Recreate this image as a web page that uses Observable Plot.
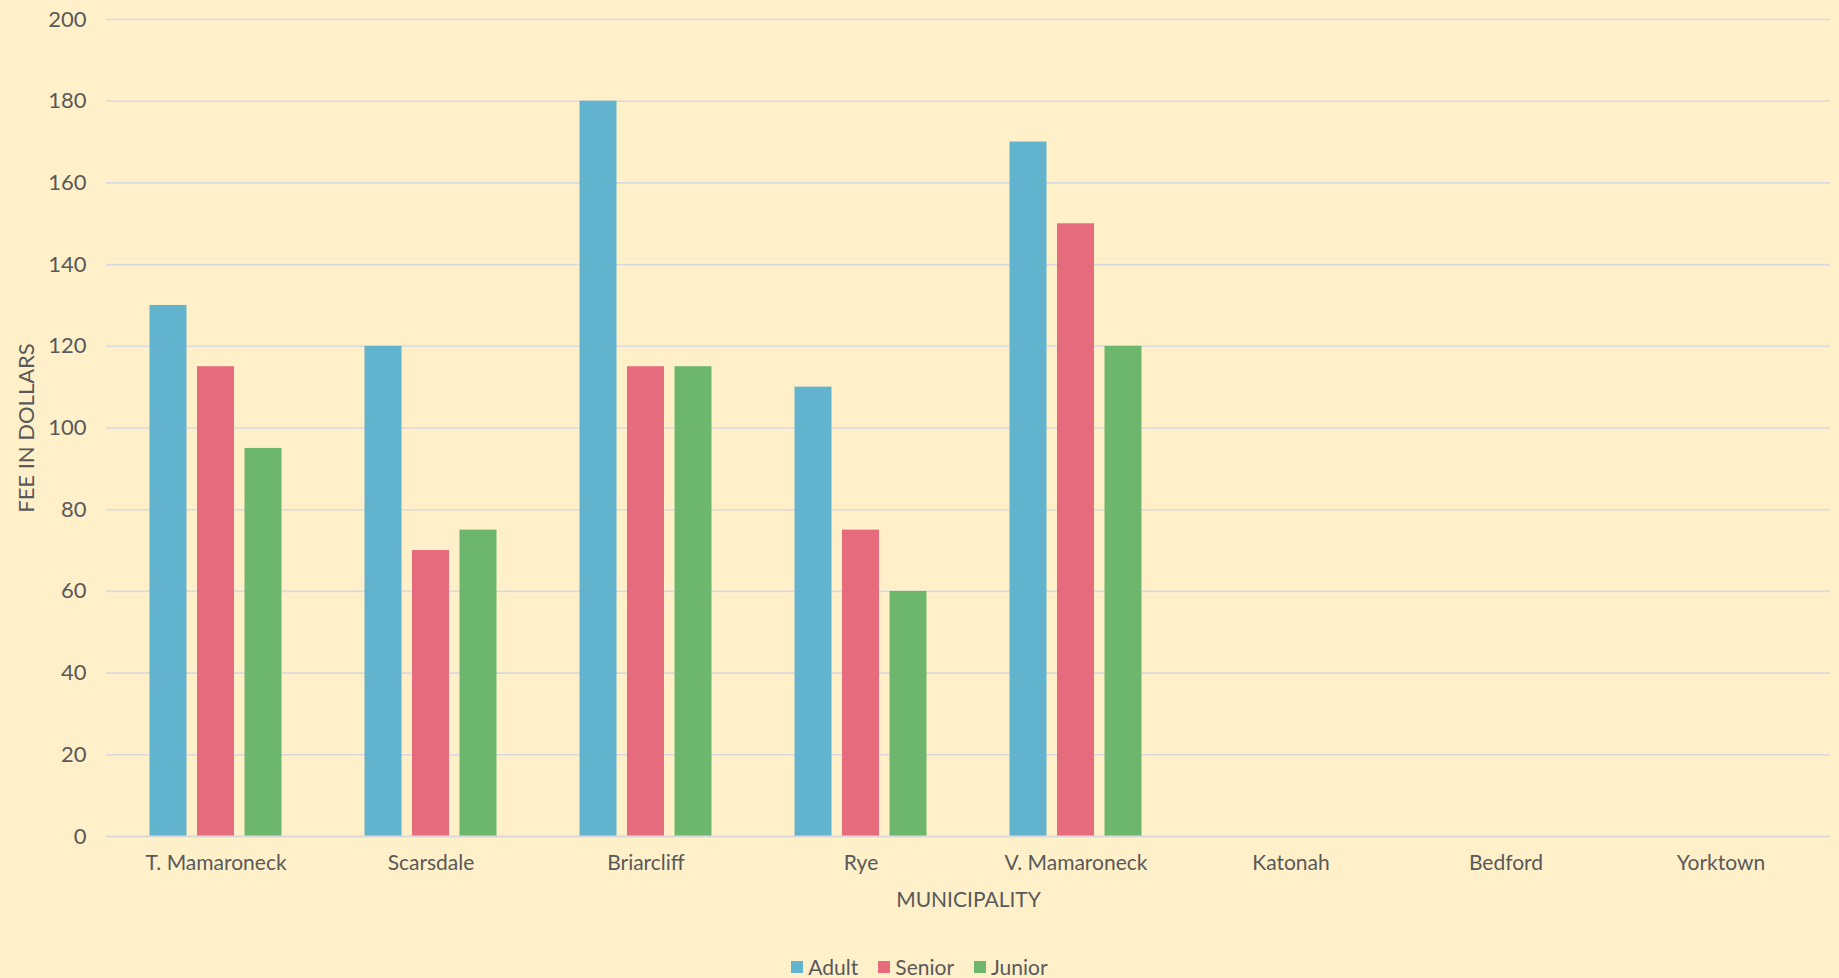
<!DOCTYPE html>
<html>
<head>
<meta charset="utf-8">
<script src="https://cdn.jsdelivr.net/npm/d3@7"></script>
<script src="https://cdn.jsdelivr.net/npm/@observablehq/plot@0.6"></script>
<style>
  html, body { margin: 0; padding: 0; background: #fff0c9; }
  body { width: 1839px; height: 978px; overflow: hidden; font-family: "Century Gothic", Lato, "Open Sans", sans-serif; }
  #chart svg { display: block; }
  #legend { display: flex; justify-content: center; align-items: center; gap: 20px; font-size: 21px; color: #595959; margin-top: 29px; }
  #legend .item { display: flex; align-items: center; gap: 5px; }
  #legend .sw { width: 12px; height: 12px; display: inline-block; }
</style>
</head>
<body>
<div id="chart"></div>
<div id="legend"></div>
<script>
const towns = ["T. Mamaroneck", "Scarsdale", "Briarcliff", "Rye", "V. Mamaroneck", "Katonah", "Bedford", "Yorktown"];
const series = ["Adult", "Senior", "Junior"];
const adult  = [130, 120, 180, 110, 170, null, null, null];
const senior = [115,  70, 115,  75, 150, null, null, null];
const junior = [ 95,  75, 115,  60, 120, null, null, null];
const yTicks = [0, 20, 40, 60, 80, 100, 120, 140, 160, 180, 200];
const colors = ["#62b3cd", "#e66c7d", "#6cb76d"];

const valuesBySeries = [adult, senior, junior];
const rows = [];
series.forEach((s, si) => {
  towns.forEach((t, ti) => {
    const v = valuesBySeries[si][ti];
    if (v != null) rows.push({town: t, series: s, fee: v});
  });
});

const W = 1839, H = 925;
const mL = 106, mR = 9, mT = 19, mB = 89;
const bw = (W - mL - mR) / towns.length;
const barW = 37.5, gap = 10;
const groupW = series.length * barW + (series.length - 1) * gap;
const off0 = (bw - groupW) / 2;

const txt = "#595959";
const fontFamily = '"Century Gothic", Lato, "Open Sans", sans-serif';

const barMarks = series.map((s, i) => {
  const left = off0 + i * (barW + gap);
  return Plot.barY(rows.filter(d => d.series === s), {
    x: "town", y: "fee", fill: "series",
    insetLeft: left, insetRight: bw - left - barW
  });
});

const chart = Plot.plot({
  width: W, height: H,
  marginLeft: mL, marginRight: mR, marginTop: mT, marginBottom: mB,
  style: { background: "transparent", fontFamily, fontSize: "21px", color: txt },
  x: { type: "band", domain: towns, padding: 0, label: null },
  y: { domain: [0, 200], label: null },
  color: { domain: series, range: colors },
  marks: [
    Plot.ruleY(yTicks.filter(d => d > 0), { stroke: "#d9dadf", strokeWidth: 1.6 }),
    ...barMarks,
    Plot.ruleY([0], { stroke: "#d9d9d9", strokeWidth: 2 }),
    Plot.axisY({ ticks: yTicks, tickSize: 0, tickPadding: 20, label: "FEE IN DOLLARS", labelAnchor: "center", labelArrow: "none", labelOffset: 88, fontSize: 22 }),
    Plot.axisX({ tickSize: 0, tickPadding: 19, label: "MUNICIPALITY", labelAnchor: "center", labelArrow: "none", labelOffset: 70, fontSize: 21 })
  ]
});
document.getElementById("chart").appendChild(chart);

const legend = document.getElementById("legend");
series.forEach((s, i) => {
  const item = document.createElement("span");
  item.className = "item";
  const sw = document.createElement("span");
  sw.className = "sw";
  sw.style.background = colors[i];
  const lab = document.createElement("span");
  lab.textContent = s;
  item.appendChild(sw);
  item.appendChild(lab);
  legend.appendChild(item);
});
</script>
</body>
</html>
